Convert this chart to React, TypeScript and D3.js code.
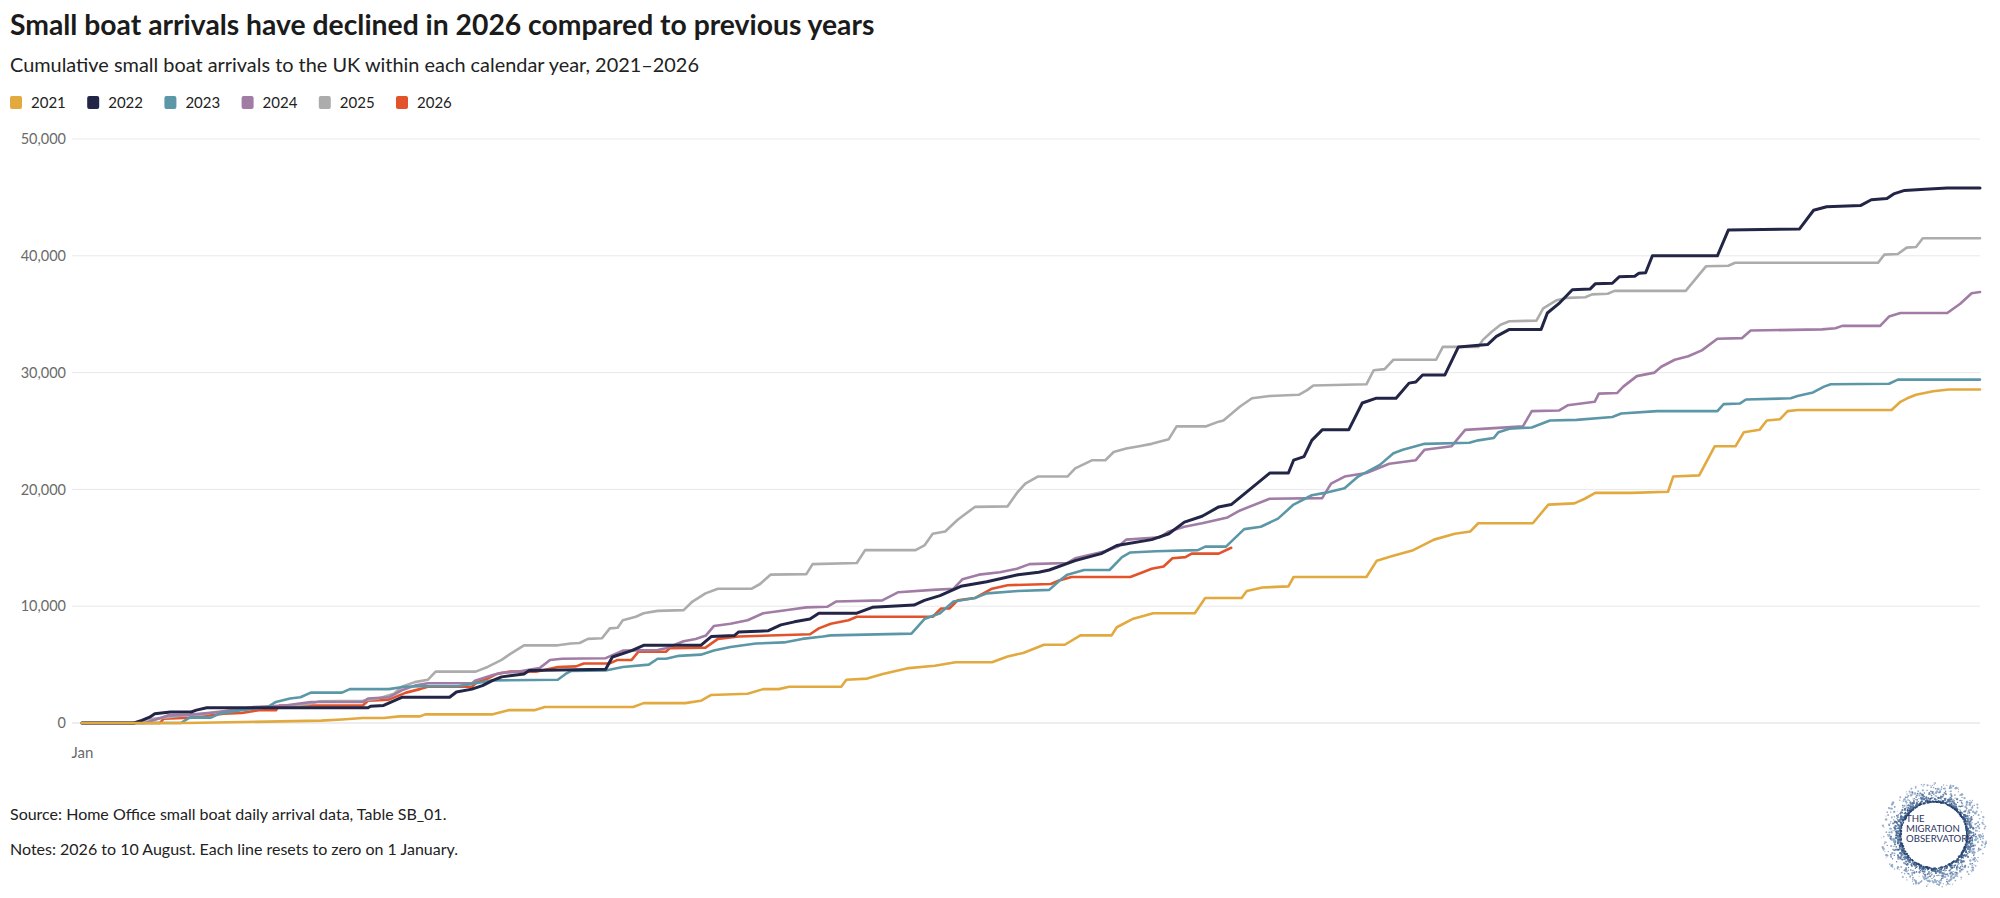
import { useEffect, useRef } from "react"
import * as d3 from "d3"

// day of year (0 = 1 Jan), cumulative arrivals
const years = ["2021", "2022", "2023", "2024", "2025", "2026"]
const colors = ["#e2a93f", "#222546", "#5b97a7", "#a17ca5", "#acacac", "#e3532b"]
const yTicks = [0, 10000, 20000, 30000, 40000, 50000]
const xTickLabels = ["Jan"]

const s2021: [number, number][] = [
  [0, 0], [20, 0], [46, 200], [50, 300], [54, 430], [58, 430], [61, 570], [65, 570], [66, 740], [79, 740],
  [82, 1100], [87, 1100], [89, 1370], [106, 1370], [108, 1700], [116, 1700], [119, 1900], [121, 2400],
  [128, 2500], [131, 2900], [134, 2900], [136, 3100], [146, 3100], [147, 3700], [151, 3800], [154, 4200],
  [159, 4700], [164, 4900], [168, 5200], [175, 5200], [178, 5700], [181, 6000], [185, 6700], [189, 6700],
  [192, 7500], [198, 7500], [199, 8200], [202, 8900], [206, 9400], [214, 9400], [216, 10700], [223, 10700],
  [224, 11300], [227, 11600], [232, 11700], [233, 12500], [247, 12500], [249, 13900], [252, 14300],
  [256, 14800], [260, 15700], [264, 16200], [267, 16400], [268.5, 17100], [279, 17100], [282, 18700],
  [287, 18800], [289, 19200], [291, 19700], [298, 19700], [305, 19800], [306, 21100], [311, 21200],
  [314, 23700], [318, 23700], [319.6, 24900], [322.6, 25100], [324, 25900], [326.5, 26000], [328, 26700],
  [330, 26800], [348, 26800], [349.7, 27500], [351, 27800], [352.7, 28100], [356, 28400], [359, 28550],
  [365, 28550],
]

const s2022: [number, number][] = [
  [0, 0], [10, 0], [11.5, 230], [13, 500], [14, 800], [17, 940], [21, 940], [22, 1100], [24, 1300],
  [55, 1300], [55.5, 1430], [58, 1500], [61.5, 2200], [70.7, 2200], [72, 2650], [75, 2900], [77, 3200],
  [79, 3650], [80.7, 3950], [85, 4200], [86, 4500], [100.7, 4600], [102, 5650], [105.7, 6200], [108, 6650],
  [119, 6650], [121, 7400], [125.5, 7500], [126.3, 7800], [132, 7900], [134.4, 8400], [137, 8660],
  [140, 8900], [141.7, 9400], [149, 9400], [152, 9900], [160, 10100], [162, 10500], [165, 10900],
  [169, 11700], [174, 12100], [180, 12700], [184, 12900], [186, 13100], [191, 13900], [196, 14500],
  [199, 15200], [205.7, 15700], [209, 16200], [212, 17200], [215.4, 17700], [218.6, 18500], [221, 18700],
  [224.3, 19900], [228.4, 21400], [232, 21400], [233, 22500], [235, 22800], [236.5, 24200], [238.5, 25100],
  [243.6, 25100], [246.2, 27400], [248.8, 27800], [252.7, 27800], [255.2, 29100], [256.5, 29200],
  [257.8, 29800], [262.1, 29800], [264.7, 32200], [270.3, 32400], [272, 33100], [274.5, 33700],
  [280.6, 33700], [281.8, 35100], [284, 35900], [286.6, 37100], [290, 37150], [291, 37600], [294.3, 37650],
  [295.6, 38200], [298.6, 38250], [299.4, 38500], [300.7, 38550], [302, 40000], [314.5, 40000],
  [316.6, 42200], [330.3, 42300], [333, 43900], [335.5, 44200], [342, 44300], [344.1, 44800],
  [347.1, 44900], [348.4, 45300], [350.5, 45600], [354.4, 45700], [358.7, 45800], [365, 45800],
]

const s2023: [number, number][] = [
  [0, 0], [19, 0], [20.7, 460], [24.8, 460], [26.5, 800], [30.7, 1100], [35.7, 1370], [37.3, 1800],
  [40, 2100], [42, 2200], [44, 2600], [50, 2600], [51.5, 2900], [59, 2900], [62, 3100], [65.7, 3150],
  [72.3, 3150], [75.7, 3400], [79, 3650], [91.5, 3700], [93, 4200], [94, 4450], [100.7, 4500], [104, 4800],
  [109, 5000], [110.7, 5500], [112.3, 5500], [114.8, 5750], [119, 5850], [121.5, 6200], [124.7, 6500],
  [129.6, 6800], [135, 6900], [138.5, 7200], [142.5, 7400], [144, 7500], [159.5, 7650], [162, 8900],
  [165, 9400], [167.6, 10400], [171.7, 10700], [174, 11100], [180, 11300], [186, 11400], [188, 12200],
  [189.5, 12700], [192.7, 13100], [197.6, 13100], [200, 14200], [201.6, 14600], [206.5, 14700],
  [214.6, 14800], [216, 15100], [220, 15100], [223.5, 16600], [226.7, 16800], [230, 17500], [233, 18700],
  [236.5, 19500], [239, 19700], [242.8, 20100], [245.4, 21100], [249.6, 22100], [252.2, 23100],
  [254, 23400], [258.2, 23900], [266.8, 24000], [268.5, 24200], [271.5, 24400], [272.4, 24900],
  [274.5, 25200], [278.8, 25300], [282.3, 25900], [287.4, 25950], [294.3, 26200], [296, 26500],
  [302.9, 26700], [314.5, 26700], [315.7, 27300], [318.8, 27350], [320, 27700], [328.6, 27800],
  [329.9, 28000], [332.9, 28300], [335, 28800], [336.3, 29000], [347.5, 29050], [349.2, 29400],
  [365, 29400],
]

const s2024: [number, number][] = [
  [0, 0], [12, 0], [15, 400], [16.5, 650], [20.7, 700], [23, 800], [26.5, 940], [29, 1100], [33, 1370],
  [39, 1500], [44, 1800], [54, 1800], [55, 2100], [59, 2200], [61.5, 2800], [64, 3200], [66.5, 3400],
  [75, 3400], [75.7, 3650], [79, 4100], [80.7, 4300], [84, 4400], [86.5, 4600], [88, 4700], [90, 5400],
  [92.3, 5500], [100.7, 5550], [104, 6200], [110.7, 6250], [112.3, 6400], [115.7, 7000], [118, 7200],
  [120, 7500], [121.5, 8300], [124.7, 8500], [128, 8800], [131, 9400], [136, 9700], [139.3, 9900],
  [143.3, 9950], [145, 10400], [153.9, 10500], [157, 11200], [163.6, 11400], [167.6, 11500],
  [169.3, 12300], [172.5, 12700], [176.5, 12900], [179.8, 13200], [182.2, 13600], [189.5, 13700],
  [191, 14100], [196.8, 14700], [199.2, 15100], [200.8, 15700], [207.3, 15900], [209, 16400],
  [212, 16800], [215.4, 17100], [220.3, 17600], [222.7, 18200], [228.4, 19200], [238.5, 19250],
  [240.2, 20500], [242.8, 21100], [247, 21400], [251.4, 22200], [256.5, 22500], [258.2, 23400],
  [263.4, 23700], [266, 25100], [277.1, 25400], [278.8, 26700], [284, 26750], [285.7, 27200],
  [290.9, 27500], [291.7, 28200], [295.2, 28250], [296.4, 28800], [299, 29700], [302.4, 30000],
  [303.7, 30500], [306.3, 31100], [308.9, 31400], [311.5, 31900], [314.5, 32900], [319.2, 32950],
  [320.9, 33600], [334.6, 33700], [337.2, 33800], [338.5, 34000], [345.8, 34000], [347.5, 34800],
  [349.7, 35100], [358.7, 35100], [361.2, 35900], [363.4, 36800], [365, 36900],
]

const s2025: [number, number][] = [
  [0, 0], [10, 0], [12.3, 300], [15.7, 460], [20, 660], [23, 700], [25.7, 940], [29, 1100], [32, 1200],
  [39, 1430], [44, 1660], [45.7, 1860], [54, 1900], [57, 2100], [60, 2500], [61.5, 3100], [64, 3500],
  [66.5, 3700], [68, 4400], [75.7, 4400], [78, 4800], [80.7, 5400], [82.3, 5900], [85, 6650],
  [91.5, 6650], [94, 6800], [95.7, 6850], [97.3, 7200], [100, 7250], [101.5, 8100], [103, 8150],
  [104, 8800], [106.5, 9100], [108, 9400], [110.7, 9600], [115.7, 9660], [117.4, 10400], [119.9, 11100],
  [122.3, 11500], [128.8, 11500], [130.4, 11900], [132.4, 12700], [139.3, 12750], [140.5, 13600],
  [149, 13700], [150.6, 14800], [160.3, 14800], [162, 15200], [163.6, 16200], [166, 16400],
  [168.4, 17400], [171.7, 18500], [178, 18550], [179.8, 19700], [181.4, 20500], [183.8, 21100],
  [189.5, 21100], [191, 21800], [194.3, 22500], [196.8, 22500], [198.4, 23200], [200.8, 23500],
  [203.3, 23700], [205.7, 23900], [209, 24300], [210.5, 25400], [216.2, 25400], [218.6, 25800],
  [219.5, 25900], [222.7, 27100], [225, 27800], [228.4, 28000], [234, 28100], [235.6, 28500],
  [236.8, 28900], [247, 29000], [248.4, 30200], [250.5, 30300], [252.2, 31100], [260.4, 31100],
  [261.7, 32200], [268.5, 32200], [269.4, 32800], [271.1, 33500], [272.8, 34100], [274.5, 34400],
  [279.7, 34450], [281, 35500], [283.6, 36200], [285.7, 36400], [289.1, 36450], [290.4, 36700],
  [293.4, 36750], [294.7, 37000], [308.4, 37000], [312.3, 39100], [316.6, 39150], [317.9, 39400],
  [345.4, 39400], [346.6, 40100], [349.2, 40150], [350.9, 40700], [352.7, 40750], [354, 41500],
  [365, 41500],
]

const s2026: [number, number][] = [
  [0, 0], [15, 0], [15.7, 370], [20.7, 460], [25.7, 700], [27.3, 800], [30.7, 850], [34, 1100],
  [37.3, 1100], [38, 1500], [54, 1500], [55, 1900], [59, 2000], [62.3, 2600], [65, 2900], [66.5, 3100],
  [75, 3100], [76, 3500], [78, 3800], [79.8, 4200], [82.3, 4400], [87.3, 4400], [90, 4650], [91.5, 4800],
  [95, 4850], [96.5, 5100], [101.5, 5100], [103, 5400], [105.7, 5400], [107, 6100], [112.3, 6100],
  [113, 6400], [119.9, 6450], [122.3, 7200], [126.3, 7400], [140, 7600], [141.7, 8100], [144, 8500],
  [147.4, 8800], [149, 9100], [163.6, 9100], [165.2, 9800], [166.8, 9800], [168.4, 10500],
  [171.7, 10700], [175, 11500], [178, 11800], [186.3, 11900], [187.9, 12200], [190.3, 12500],
  [201.6, 12500], [204, 12900], [205.7, 13200], [208, 13400], [209.7, 14100], [212.2, 14200],
  [213.4, 14500], [218.6, 14500], [221, 15000],
]

const series = [s2021, s2022, s2023, s2024, s2025, s2026]

const W = 2000
const H = 898
const FONT = "Lato, 'Noto Sans', sans-serif"

export default function App() {
  const svgRef = useRef<SVGSVGElement>(null)

  useEffect(() => {
    if (!svgRef.current) return
    const svg = d3.select(svgRef.current)
    svg.selectAll("*").remove()

    svg.append("rect").attr("width", W).attr("height", H).attr("fill", "#fff")

    // Header
    svg.append("text")
      .attr("x", 10).attr("y", 35)
      .attr("font-family", FONT).attr("font-weight", 700).attr("font-size", 28.3)
      .attr("fill", "#1b1b1b")
      .text("Small boat arrivals have declined in 2026 compared to previous years")

    svg.append("text")
      .attr("x", 10).attr("y", 72)
      .attr("font-family", FONT).attr("font-size", 19.9)
      .attr("fill", "#222")
      .text("Cumulative small boat arrivals to the UK within each calendar year, 2021–2026")

    // Legend
    const legend = svg.append("g").selectAll("g")
      .data(years)
      .enter()
      .append("g")
      .attr("transform", (d, i) => `translate(${10 + i * 77.2},0)`)

    legend.append("rect")
      .attr("x", 0).attr("y", 96).attr("width", 12).attr("height", 13).attr("rx", 2)
      .attr("fill", (d, i) => colors[i])

    legend.append("text")
      .attr("x", 21).attr("y", 108)
      .attr("font-family", FONT).attr("font-size", 15).attr("fill", "#222")
      .text((d) => d)

    // Scales
    const x = d3.scaleLinear().domain([0, 365]).range([82, 1980])
    const y = d3.scaleLinear().domain([0, 50000]).range([723, 139])

    // Grid
    svg.append("g").selectAll("line")
      .data(yTicks)
      .enter()
      .append("line")
      .attr("x1", 72).attr("x2", 1980)
      .attr("y1", (d) => y(d)).attr("y2", (d) => y(d))
      .attr("stroke", (d) => (d === 0 ? "#dcdce2" : "#e8e8ec"))
      .attr("stroke-width", 1)

    // Y axis
    const yAxis = svg.append("g")
      .attr("transform", "translate(66,0)")
      .call(d3.axisLeft(y).tickValues(yTicks).tickFormat((d) => d3.format(",")(d as number)).tickSize(0).tickPadding(0))
    yAxis.select(".domain").remove()
    yAxis.selectAll("text")
      .attr("font-family", FONT).attr("font-size", 14.5).attr("fill", "#6a6a6a")

    // X axis: only the first month is labelled
    const xAxis = svg.append("g")
      .attr("transform", "translate(0,741)")
      .call(d3.axisBottom(x).tickValues([0]).tickFormat((d, i) => xTickLabels[i]).tickSize(0).tickPadding(6))
    xAxis.select(".domain").remove()
    xAxis.selectAll("text")
      .attr("font-family", FONT).attr("font-size", 15).attr("fill", "#6a6a6a")

    // Lines (2021 drawn last, on top)
    const line = d3.line<[number, number]>()
      .x((d) => x(d[0]))
      .y((d) => y(d[1]))
      .curve(d3.curveLinear)

    const order = [5, 4, 3, 2, 1, 0]
    svg.append("g").selectAll("path")
      .data(order)
      .enter()
      .append("path")
      .attr("d", (i) => line(series[i]) as string)
      .attr("fill", "none")
      .attr("stroke", (i) => colors[i])
      .attr("stroke-width", (i) => (i === 1 ? 3 : 2.6))
      .attr("stroke-linejoin", "round")
      .attr("stroke-linecap", "round")

    // Footer
    svg.append("text")
      .attr("x", 10).attr("y", 820)
      .attr("font-family", FONT).attr("font-size", 16).attr("fill", "#222")
      .text("Source: Home Office small boat daily arrival data, Table SB_01.")

    svg.append("text")
      .attr("x", 10).attr("y", 855)
      .attr("font-family", FONT).attr("font-size", 16).attr("fill", "#222")
      .text("Notes: 2026 to 10 August. Each line resets to zero on 1 January.")

    // Logo: speckled ring with wordmark
    const logo = svg.append("g").attr("transform", "translate(1934,835)")
    const dots: { a: number; r: number; s: number; c: string }[] = []
    const shades = ["#1c3560", "#30507e", "#56779f", "#8ea6c6"]
    for (let i = 0; i < 1400; i++) {
      const f = Math.abs(Math.sin(i * 12.9898) * 43758.5453) % 1
      const g = Math.abs(Math.sin(i * 78.233) * 24634.6345) % 1
      dots.push({
        a: i * 2.39996,
        r: 33 + Math.pow(f, 2.2) * 20,
        s: 0.45 + g * 0.8,
        c: shades[Math.min(3, Math.floor(f * 3 + g * 1.2))],
      })
    }
    logo.selectAll("circle")
      .data(dots)
      .enter()
      .append("circle")
      .attr("cx", (d) => Math.cos(d.a) * d.r)
      .attr("cy", (d) => Math.sin(d.a) * d.r)
      .attr("r", (d) => d.s)
      .attr("fill", (d) => d.c)
      .attr("opacity", 0.9)

    const words = ["THE", "MIGRATION", "OBSERVATORY"]
    logo.selectAll("text.word")
      .data(words)
      .enter()
      .append("text")
      .attr("class", "word")
      .attr("x", -28)
      .attr("y", (d, i) => -13 + i * 10)
      .attr("font-family", FONT).attr("font-size", 9.6).attr("fill", "#2b3560")
      .text((d) => d)
  }, [])

  return (
    <div style={{ position: "absolute", left: 0, top: 0, width: W, height: H, background: "#fff" }}>
      <svg ref={svgRef} width={W} height={H} style={{ display: "block" }} />
    </div>
  )
}
